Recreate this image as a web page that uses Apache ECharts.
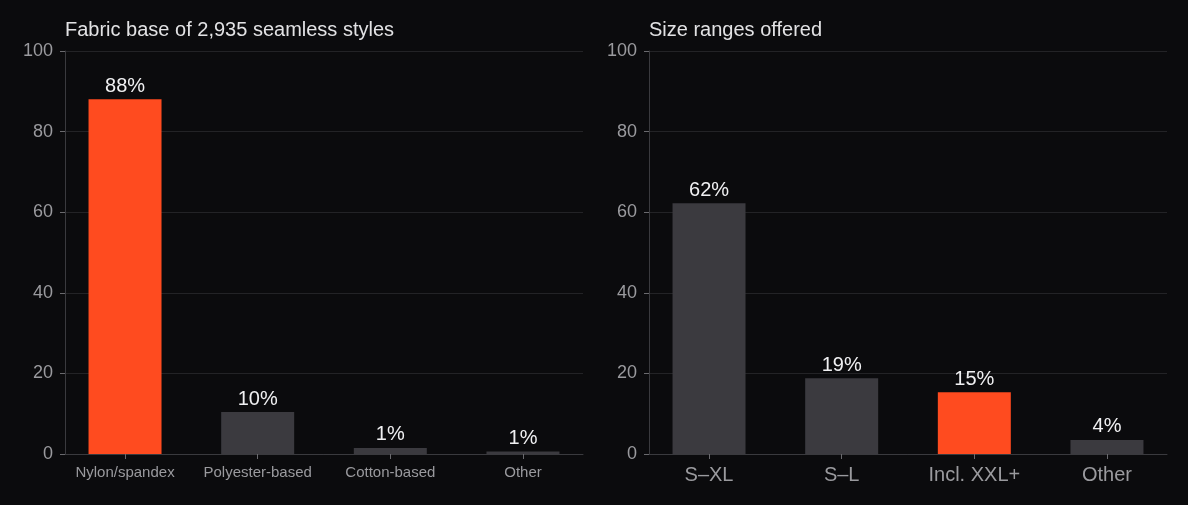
<!DOCTYPE html>
<html>
<head>
<meta charset="utf-8">
<script src="https://cdn.jsdelivr.net/npm/echarts@6/dist/echarts.min.js"></script>
<style>
  html, body { margin: 0; padding: 0; background: #0b0b0d; }
  #main { width: 1188px; height: 505px; }
</style>
</head>
<body>
<div id="main"></div>
<script>
// fabric panel
var fabricCats = ['Nylon/spandex', 'Polyester-based', 'Cotton-based', 'Other'];
var fabricVals = [88, 10.4, 1.5, 0.6];
var fabricLabels = ['88%', '10%', '1%', '1%'];
var fabricHighlight = 0;

// size panel
var sizeCats = ['S\u2013XL', 'S\u2013L', 'Incl. XXL+', 'Other'];
var sizeVals = [62.2, 18.8, 15.3, 3.5];
var sizeLabels = ['62%', '19%', '15%', '4%'];
var sizeHighlight = 2;

var yTicks = [0, 20, 40, 60, 80, 100];

var ORANGE = '#ff4b1f';
var GREY = '#3b3a3f';
var FONT = 'Liberation Sans, Arial, sans-serif';

// bars sit at integer positions with a little slack on each side
var X_PAD = 0.4525;
var BAR_W = 73;

function barData(vals, labels, hi) {
  return vals.map(function (v, i) {
    return {
      value: [i, v],
      itemStyle: { color: i === hi ? ORANGE : GREY },
      label: { formatter: labels[i] }
    };
  });
}

function yAxis(idx) {
  return {
    type: 'value', gridIndex: idx, min: 0, max: 100, interval: 20,
    axisLine: { show: true, onZero: false, lineStyle: { color: '#3a3a3e' } },
    axisTick: { show: true, length: 5, lineStyle: { color: '#6a6a6e' } },
    axisLabel: {
      color: '#9a9a9e', fontSize: 18, fontFamily: FONT, margin: 12,
      formatter: function (v) { return yTicks.indexOf(v) >= 0 ? String(v) : ''; }
    },
    splitLine: { lineStyle: { color: '#232326' } }
  };
}

function xAxis(idx, cats, size, margin) {
  var pos = cats.map(function (c, i) { return i; });
  return {
    type: 'value', gridIndex: idx, min: -X_PAD, max: cats.length - 1 + X_PAD,
    splitLine: { show: false },
    axisLine: { show: true, onZero: false, lineStyle: { color: '#3a3a3e' } },
    axisTick: { show: true, customValues: pos, length: 5, lineStyle: { color: '#6a6a6e' } },
    axisLabel: {
      customValues: pos, color: '#9a9a9e', fontSize: size, fontFamily: FONT, margin: margin,
      formatter: function (v) { return cats[Math.round(v)]; }
    }
  };
}

var chart = echarts.init(document.getElementById('main'));
chart.setOption({
  backgroundColor: '#0b0b0d',
  animation: false,
  title: [
    { text: 'Fabric base of 2,935 seamless styles', left: 60, top: 15,
      textStyle: { color: '#e2e2e4', fontSize: 20, fontWeight: 'normal', fontFamily: FONT } },
    { text: 'Size ranges offered', left: 644, top: 15,
      textStyle: { color: '#e2e2e4', fontSize: 20, fontWeight: 'normal', fontFamily: FONT } }
  ],
  grid: [
    { left: 65, right: 1188 - 583, top: 51, bottom: 505 - 454 },
    { left: 649, right: 1188 - 1167, top: 51, bottom: 505 - 454 }
  ],
  xAxis: [xAxis(0, fabricCats, 15, 11), xAxis(1, sizeCats, 20, 11)],
  yAxis: [yAxis(0), yAxis(1)],
  series: [
    {
      type: 'bar', xAxisIndex: 0, yAxisIndex: 0, barWidth: BAR_W,
      data: barData(fabricVals, fabricLabels, fabricHighlight),
      label: { show: true, position: 'top', distance: 3, color: '#f0f0f2', fontSize: 20, fontFamily: FONT }
    },
    {
      type: 'bar', xAxisIndex: 1, yAxisIndex: 1, barWidth: BAR_W,
      data: barData(sizeVals, sizeLabels, sizeHighlight),
      label: { show: true, position: 'top', distance: 3, color: '#f0f0f2', fontSize: 20, fontFamily: FONT }
    }
  ]
});
</script>
</body>
</html>
